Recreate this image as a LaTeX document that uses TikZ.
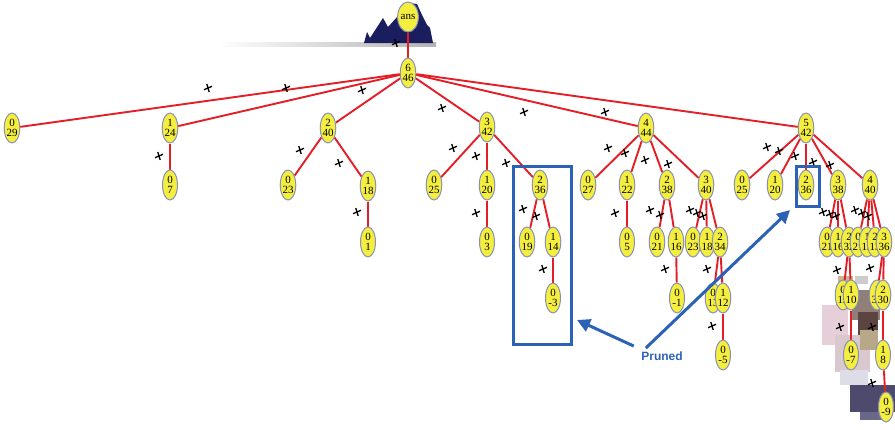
\documentclass[tikz,border=0pt]{standalone}
\usepackage{fontspec}
\setmainfont{Liberation Serif}
\newfontfamily\labfont{Liberation Sans}
\usetikzlibrary{shapes.geometric,arrows.meta,backgrounds}
\definecolor{nodey}{HTML}{F4EE3E}
\definecolor{nodeb}{HTML}{8890B8}
\definecolor{edr}{HTML}{E41E26}
\definecolor{bbox}{HTML}{2C62B6}
\definecolor{navy}{HTML}{1B1E5E}
\definecolor{px1}{HTML}{CDB494}
\definecolor{px2}{HTML}{B9A08A}
\definecolor{px3}{HTML}{8F7F78}
\definecolor{px4}{HTML}{E6CFD8}
\definecolor{px5}{HTML}{5C4540}
\definecolor{px6}{HTML}{D9C9CF}
\definecolor{px7}{HTML}{B8A88A}
\definecolor{px8}{HTML}{DCDDE6}
\definecolor{px9}{HTML}{4E4A6E}
\definecolor{px10}{HTML}{6A6888}
\begin{document}
\begin{tikzpicture}[x=1pt,y=-1pt,
  nd/.style={ellipse, draw=nodeb, line width=1pt, fill=nodey, inner sep=0pt,
    minimum width=15pt, minimum height=30pt, align=center,
    font=\fontsize{11}{10.5}\selectfont},
  ed/.style={draw=edr, line width=1.9pt},
  boxb/.style={draw=bbox, line width=3pt},
  arr/.style={draw=bbox, line width=3pt, -{Triangle[length=13pt,width=13pt]}},
  xmk/.pic={\draw[black, line width=1.3pt] (-4,1.7)--(4,-1.7) (-1.2,-4)--(1.2,4);}]
\useasboundingbox (0,0) rectangle (895,429);
% nodes
\node[nd] (ans) at (408,17) {ans};
\node[nd] (r) at (408,73) {6\\46};
\node[nd] (a0) at (12,128) {0\\29};
\node[nd] (a1) at (170,128) {1\\24};
\node[nd] (a2) at (328,128) {2\\40};
\node[nd] (a3) at (487,127) {3\\42};
\node[nd] (a4) at (646,128) {4\\44};
\node[nd] (a5) at (806,128) {5\\42};
\node[nd] (b10) at (170,185) {0\\7};
\node[nd] (b20) at (288,185) {0\\23};
\node[nd] (b21) at (368,186) {1\\18};
\node[nd] (b30) at (434,185) {0\\25};
\node[nd] (b31) at (487,185) {1\\20};
\node[nd] (b32) at (540,185) {2\\36};
\node[nd] (b40) at (588,185) {0\\27};
\node[nd] (b41) at (627,185) {1\\22};
\node[nd] (b42) at (667,185) {2\\38};
\node[nd] (b43) at (706,185) {3\\40};
\node[nd] (b50) at (742,185) {0\\25};
\node[nd] (b51) at (775,185) {1\\20};
\node[nd] (b52) at (806,185) {2\\36};
\node[nd] (b53) at (838,185) {3\\38};
\node[nd] (b54) at (870,185) {4\\40};
\node[nd] (c210) at (368,242) {0\\1};
\node[nd] (c310) at (487,242) {0\\3};
\node[nd] (c320) at (527,242) {0\\19};
\node[nd] (c321) at (553,242) {1\\14};
\node[nd] (c410) at (627,242) {0\\5};
\node[nd] (c420) at (657,242) {0\\21};
\node[nd] (c421) at (676,242) {1\\16};
\node[nd] (c430) at (693,242) {0\\23};
\node[nd] (c431) at (707,242) {1\\18};
\node[nd] (c432) at (720,242) {2\\34};
\node[nd] (c530) at (827,242) {0\\21};
\node[nd] (c531) at (838,242) {1\\16};
\node[nd] (c532) at (849,242) {2\\32};
\node[nd] (c540) at (858,242) {0\\21};
\node[nd] (c541) at (867,242) {1\\13};
\node[nd] (c542) at (875,242) {2\\13};
\node[nd] (c543) at (884,242) {3\\36};
\node[nd] (d321) at (553,298) {0\\-3};
\node[nd] (d421) at (677,298) {0\\-1};
\node[nd] (d4320) at (713,298) {0\\13};
\node[nd] (d4321) at (723,298) {1\\12};
\node[nd] (e) at (723,355) {0\\-5};
\node[nd] (d5320) at (843,295) {0\\12};
\node[nd] (d5321) at (851,295) {1\\10};
\node[nd] (d5430) at (877,295) {1\\30};
\node[nd] (d5431) at (883,295) {2\\30};
\node[nd] (f1) at (851,355) {0\\-7};
\node[nd] (f2) at (883,355) {1\\8};
\node[nd] (g) at (886,407) {0\\-9};
\begin{scope}[on background layer]
  % dark shape behind the root
  \shade[left color=white, right color=black!30] (217,42) rectangle (436,46);
  \fill[navy] (364,43) -- (367,32) -- (370,38) -- (383,18) -- (388,27) -- (398,16)
    -- (403,6) -- (410,3) -- (417,4) -- (422,15) -- (427,25) -- (430,28) -- (433,43) -- cycle;
  % pixelated patches
  \fill[px1] (838,276) rectangle (853,284);
  \fill[black!20] (855,276) rectangle (868,284);
  \fill[px2] (836,285) rectangle (848,305);
  \fill[px3] (852,290) rectangle (880,320);
  \fill[px4] (822,305) rectangle (848,345);
  \fill[px5] (858,312) rectangle (878,335);
  \fill[px6] (835,335) rectangle (870,372);
  \fill[px7] (860,330) rectangle (878,350);
  \fill[px8] (840,370) rectangle (868,385);
  \fill[px9] (850,385) rectangle (895,412);
  \fill[px10] (860,412) rectangle (890,420);
  % edges
  \draw[ed] (ans) -- (r);
  \foreach \c in {a0,a1,a2,a3,a4,a5} \draw[ed] (r) -- (\c);
  \draw[ed] (a1) -- (b10);
  \draw[ed] (a2) -- (b20); \draw[ed] (a2) -- (b21);
  \foreach \c in {b30,b31,b32} \draw[ed] (a3) -- (\c);
  \foreach \c in {b40,b41,b42,b43} \draw[ed] (a4) -- (\c);
  \foreach \c in {b50,b51,b52,b53,b54} \draw[ed] (a5) -- (\c);
  \draw[ed] (b21) -- (c210);
  \draw[ed] (b31) -- (c310);
  \draw[ed] (b32) -- (c320); \draw[ed] (b32) -- (c321);
  \draw[ed] (b41) -- (c410);
  \draw[ed] (b42) -- (c420); \draw[ed] (b42) -- (c421);
  \foreach \c in {c430,c431,c432} \draw[ed] (b43) -- (\c);
  \foreach \c in {c530,c531,c532} \draw[ed] (b53) -- (\c);
  \foreach \c in {c540,c541,c542,c543} \draw[ed] (b54) -- (\c);
  \draw[ed] (c321) -- (d321);
  \draw[ed] (c421) -- (d421);
  \draw[ed] (c432) -- (d4320); \draw[ed] (c432) -- (d4321);
  \draw[ed] (d4321) -- (e);
  \draw[ed] (c532) -- (d5320); \draw[ed] (c532) -- (d5321);
  \draw[ed] (c543) -- (d5430); \draw[ed] (c543) -- (d5431);
  \draw[ed] (d5321) -- (f1);
  \draw[ed] (d5431) -- (f2);
  \draw[ed] (f2) -- (g);
\end{scope}
% cross marks
\foreach \p in {(396,43),(208,88),(286,88),(362,90),(442,108),(159,156),(300,150),(339,163),(357,212),
  (524,112),(605,112),(453,148),(476,156),(506,163),(523,209),(536,216),(476,213),(543,269),
  (608,148),(625,153),(645,160),(668,164),(615,213),(650,210),(660,215),(690,210),(697,213),(703,216),
  (665,269),(707,269),(712,326),(767,147),(779,151),(795,156),(813,162),(830,165),
  (823,212),(830,214),(836,216),(855,210),(862,213),(868,216),(837,270),(870,268),
  (840,327),(872,327),(872,383)}
  \pic at \p {xmk};
% pruned markers
\draw[boxb] (513,166) rectangle (571,344);
\draw[boxb] (796,166) rectangle (819,206);
\coordinate (h1) at (577,320);
\coordinate (h2) at (790,210);
\node[font=\labfont\bfseries\fontsize{12}{12}\selectfont, text=bbox] (pr) at (662,356) {Pruned};
\draw[arr] (pr.north west) ++(-4,-2) -- (h1);
\draw[arr] (pr.north west) ++(8,0) -- (h2);
\end{tikzpicture}
\end{document}
